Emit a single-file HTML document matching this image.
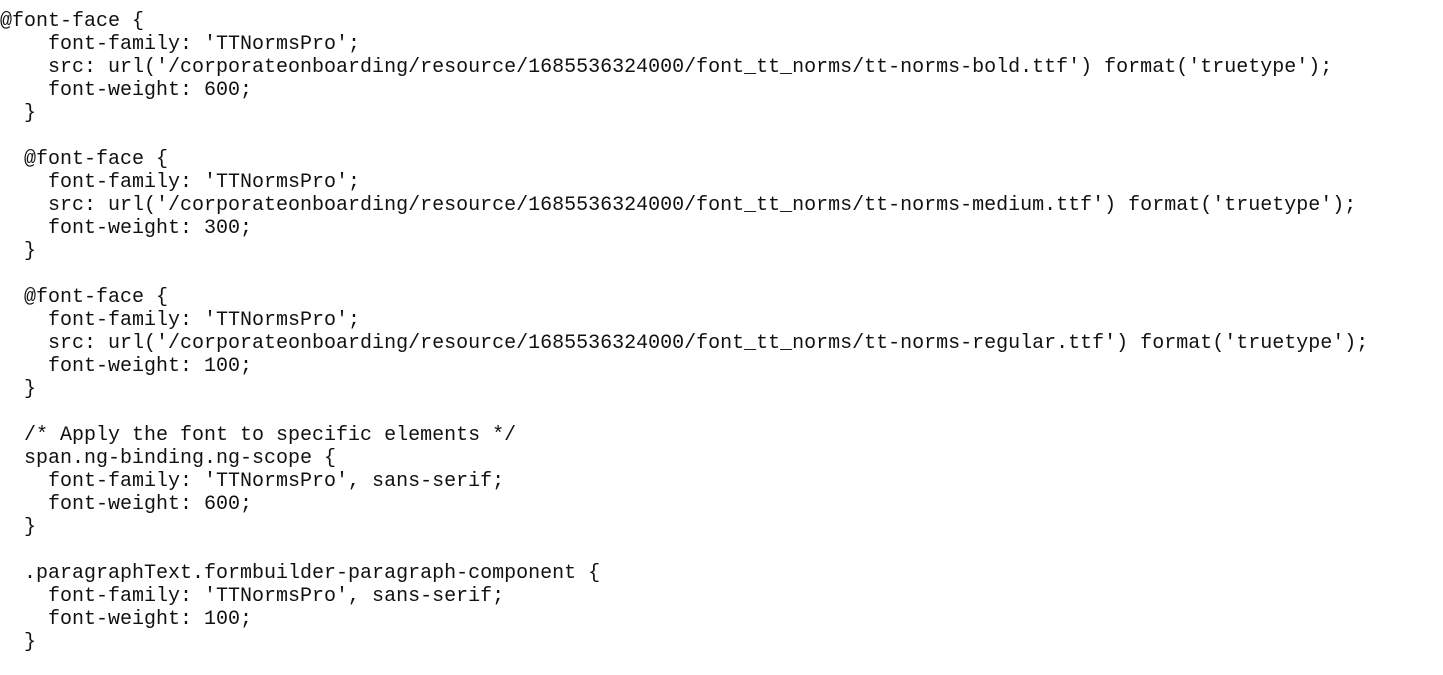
<!DOCTYPE html>
<html><head><meta charset="utf-8"><style>
html,body{margin:0;padding:0;background:#fff;width:1443px;height:675px;overflow:hidden}
pre{margin:0;padding:10px 0 0 0;font-family:"Liberation Mono",monospace;font-size:20px;line-height:23px;color:#111;white-space:pre}
</style></head><body><pre>@font-face {
    font-family: 'TTNormsPro';
    src: url('/corporateonboarding/resource/1685536324000/font_tt_norms/tt-norms-bold.ttf') format('truetype');
    font-weight: 600;
  }

  @font-face {
    font-family: 'TTNormsPro';
    src: url('/corporateonboarding/resource/1685536324000/font_tt_norms/tt-norms-medium.ttf') format('truetype');
    font-weight: 300;
  }

  @font-face {
    font-family: 'TTNormsPro';
    src: url('/corporateonboarding/resource/1685536324000/font_tt_norms/tt-norms-regular.ttf') format('truetype');
    font-weight: 100;
  }

  /* Apply the font to specific elements */
  span.ng-binding.ng-scope {
    font-family: 'TTNormsPro', sans-serif;
    font-weight: 600;
  }

  .paragraphText.formbuilder-paragraph-component {
    font-family: 'TTNormsPro', sans-serif;
    font-weight: 100;
  }
</pre></body></html>
